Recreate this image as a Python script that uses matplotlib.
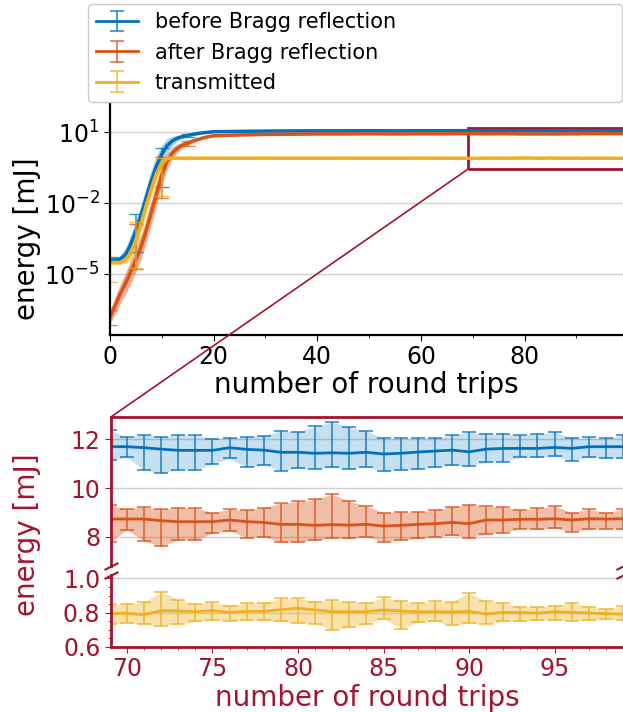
import numpy as np
import matplotlib.pyplot as plt
from matplotlib.patches import Rectangle, ConnectionPatch
from matplotlib.ticker import MultipleLocator, NullLocator

# colours
blue = '#0072BD'
orange = '#D95319'
yellow = '#EDB120'
darkred = '#A2142F'
fill_alpha = {blue: 0.22, orange: 0.38, yellow: 0.38}

labels = ['before Bragg reflection', 'after Bragg reflection', 'transmitted']

# build-up phase, round trips 0..20 (energy in mJ)
x_rise = list(range(21))
before_rise = [4.0e-5, 4.1e-5, 4.5e-5, 7.1e-5, 1.9e-4, 7.1e-4, 3.2e-3, 1.8e-2, 9.5e-2, 0.40, 1.2,
               2.7, 4.3, 5.6, 6.6, 7.4, 8.1, 8.9, 9.5, 10.0, 10.5]
before_rise_lo = [3.0e-5, 3.1e-5, 3.2e-5, 4.0e-5, 7.6e-5, 2.5e-4, 1.1e-3, 6.4e-3, 3.4e-2, 0.14, 0.48,
                  1.35, 2.7, 4.25, 5.5, 6.45, 7.2, 8.1, 8.9, 9.3, 9.8]
before_rise_hi = [5.3e-5, 5.4e-5, 6.4e-5, 1.26e-4, 4.8e-4, 2.0e-3, 9.0e-3, 5.1e-2, 0.27, 1.13, 3.0,
                  5.4, 6.8, 7.4, 7.9, 8.5, 9.1, 9.75, 10.2, 10.7, 11.3]
after_rise = [1.6e-7, 5.0e-7, 1.6e-6, 4.2e-6, 1.3e-5, 4.1e-5, 1.5e-4, 7.4e-4, 4.5e-3, 2.6e-2, 0.16,
              0.58, 1.3, 2.1, 2.9, 3.5, 4.3, 5.0, 5.8, 6.5, 7.1]
after_rise_lo = [8.0e-8, 2.2e-7, 6.4e-7, 1.5e-6, 4.1e-6, 1.3e-5, 4.7e-5, 2.3e-4, 1.4e-3, 8.2e-3, 5.7e-2,
                 0.26, 0.73, 1.4, 2.2, 2.8, 3.6, 4.4, 5.2, 5.9, 6.5]
after_rise_hi = [3.2e-7, 1.1e-6, 4.0e-6, 1.2e-5, 4.1e-5, 1.3e-4, 4.7e-4, 2.3e-3, 1.4e-2, 8.2e-2, 0.45,
                 1.3, 2.3, 3.2, 3.8, 4.4, 5.2, 5.7, 6.5, 7.1, 7.8]
trans_rise = [3.2e-5, 3.2e-5, 3.2e-5, 4.1e-5, 7.8e-5, 2.8e-4, 1.4e-3, 8.5e-3, 4.3e-2, 0.19, 0.49,
              0.79, 0.81, 0.80, 0.80, 0.81, 0.80, 0.80, 0.81, 0.80, 0.80]
trans_rise_lo = [2.7e-5, 2.7e-5, 2.7e-5, 2.9e-5, 3.9e-5, 1.1e-4, 5.6e-4, 3.4e-3, 1.7e-2, 8.5e-2, 0.31,
                 0.72, 0.74, 0.74, 0.74, 0.75, 0.74, 0.74, 0.75, 0.74, 0.74]
trans_rise_hi = [3.8e-5, 3.8e-5, 3.8e-5, 5.8e-5, 1.6e-4, 7.0e-4, 3.5e-3, 2.1e-2, 0.11, 0.43, 0.78,
                 0.86, 0.88, 0.86, 0.86, 0.87, 0.86, 0.86, 0.87, 0.86, 0.86]

# saturated phase, sampled
x_plateau = [25, 30, 35, 40, 45, 50, 55, 60, 65]
before_plat = [10.9, 11.2, 11.4, 11.5, 11.5, 11.6, 11.5, 11.6, 11.6]
before_plat_lo = [10.2, 10.5, 10.7, 10.8, 10.8, 10.9, 10.8, 10.9, 10.9]
before_plat_hi = [11.5, 11.8, 12.0, 12.1, 12.1, 12.2, 12.1, 12.2, 12.2]
after_plat = [7.7, 8.1, 8.3, 8.5, 8.5, 8.6, 8.5, 8.6, 8.6]
after_plat_lo = [7.0, 7.4, 7.6, 7.8, 7.8, 7.9, 7.8, 7.9, 7.9]
after_plat_hi = [8.4, 8.8, 9.0, 9.2, 9.2, 9.3, 9.2, 9.3, 9.3]
trans_plat = [0.80, 0.81, 0.80, 0.80, 0.81, 0.80, 0.80, 0.81, 0.80]
trans_plat_lo = [0.74, 0.75, 0.74, 0.74, 0.75, 0.74, 0.74, 0.75, 0.74]
trans_plat_hi = [0.86, 0.87, 0.86, 0.86, 0.87, 0.86, 0.86, 0.87, 0.86]

# zoomed window, round trips 69..99
x_zoom = list(range(69, 100))
before_mean = [11.70, 11.70, 11.66, 11.60, 11.55, 11.55, 11.55, 11.66, 11.59, 11.56, 11.47,
               11.47, 11.43, 11.45, 11.43, 11.47, 11.40, 11.43, 11.48, 11.52, 11.56,
               11.49, 11.60, 11.63, 11.63, 11.63, 11.67, 11.63, 11.70, 11.70, 11.70]
before_hi = [12.38, 12.08, 12.20, 12.11, 12.18, 12.18, 12.03, 12.07, 12.11, 12.16, 12.35,
             12.31, 12.54, 12.72, 12.49, 12.35, 12.04, 12.04, 12.04, 12.04, 12.18,
             12.30, 12.22, 12.22, 12.18, 12.22, 12.30, 12.04, 12.08, 12.04, 12.18]
before_lo = [11.15, 11.26, 10.74, 10.61, 10.74, 10.74, 10.99, 11.22, 10.85, 10.95, 10.72,
             10.81, 10.79, 10.85, 10.77, 10.88, 10.69, 10.74, 10.77, 10.85, 10.95,
             10.91, 11.06, 11.09, 11.26, 11.26, 11.30, 11.13, 11.26, 11.22, 11.22]
after_mean = [8.73, 8.73, 8.73, 8.66, 8.62, 8.62, 8.62, 8.69, 8.62, 8.59, 8.51,
              8.51, 8.47, 8.50, 8.48, 8.51, 8.44, 8.47, 8.51, 8.54, 8.59,
              8.54, 8.69, 8.69, 8.72, 8.72, 8.74, 8.69, 8.74, 8.73, 8.74]
after_hi = [9.31, 9.14, 9.24, 9.13, 9.20, 9.20, 8.99, 9.13, 9.10, 9.20, 9.38,
            9.45, 9.54, 9.75, 9.45, 9.27, 8.99, 9.03, 9.01, 9.10, 9.24,
            9.32, 9.26, 9.23, 9.10, 9.17, 9.27, 8.99, 9.13, 8.99, 9.13]
after_lo = [7.79, 8.28, 7.82, 7.61, 7.86, 7.86, 8.14, 8.25, 7.96, 8.00, 7.77,
            7.79, 7.86, 7.96, 7.93, 8.00, 7.79, 7.86, 7.93, 8.00, 8.07,
            7.97, 8.11, 8.17, 8.34, 8.30, 8.37, 8.19, 8.34, 8.32, 8.32]
trans_mean = [0.796, 0.796, 0.788, 0.812, 0.810, 0.806, 0.812, 0.802, 0.808, 0.808, 0.818,
              0.826, 0.816, 0.806, 0.806, 0.806, 0.816, 0.810, 0.806, 0.806, 0.804,
              0.808, 0.792, 0.802, 0.800, 0.798, 0.806, 0.802, 0.798, 0.794, 0.792]
trans_hi = [0.848, 0.851, 0.861, 0.921, 0.877, 0.851, 0.863, 0.842, 0.857, 0.859, 0.885,
            0.885, 0.865, 0.875, 0.865, 0.855, 0.891, 0.867, 0.859, 0.867, 0.865,
            0.915, 0.867, 0.859, 0.832, 0.836, 0.842, 0.857, 0.836, 0.822, 0.842]
trans_lo = [0.733, 0.741, 0.733, 0.723, 0.733, 0.749, 0.758, 0.752, 0.758, 0.756, 0.749,
            0.741, 0.737, 0.697, 0.717, 0.733, 0.766, 0.707, 0.743, 0.749, 0.727,
            0.741, 0.733, 0.749, 0.752, 0.756, 0.758, 0.752, 0.756, 0.762, 0.758]

# error bars drawn on the overview plot
err_x = [0, 5, 10, 15]
before_err_lo = [3.0e-5, 9.1e-5, 5.0e-2, 6.3]
before_err_hi = [5.3e-5, 3.5e-3, 2.1, 8.6]
after_err_lo = [7.2e-8, 1.7e-5, 1.7e-2, 2.75]
after_err_hi = [3.2e-7, 1.3e-3, 0.93, 4.4]
trans_err_lo = [4.6e-6, 1.8e-5, 2.1e-2, 0.74]
trans_err_hi = [3.8e-5, 1.6e-3, 0.80, 0.87]

fig = plt.figure(figsize=(6.23, 7.12), dpi=100)

# ---------------- overview (log scale) ----------------
ax1 = fig.add_axes([0.1766, 0.5295, 0.8234, 0.3301])
x_top = x_rise + x_plateau + x_zoom
series = [
    (blue, before_rise + before_plat + before_mean, before_rise_lo + before_plat_lo + before_lo,
     before_rise_hi + before_plat_hi + before_hi, before_rise, before_err_lo, before_err_hi),
    (orange, after_rise + after_plat + after_mean, after_rise_lo + after_plat_lo + after_lo,
     after_rise_hi + after_plat_hi + after_hi, after_rise, after_err_lo, after_err_hi),
    (yellow, trans_rise + trans_plat + trans_mean, trans_rise_lo + trans_plat_lo + trans_lo,
     trans_rise_hi + trans_plat_hi + trans_hi, trans_rise, trans_err_lo, trans_err_hi),
]
for c, m, lo, hi, rise, elo, ehi in series:
    ax1.fill_between(x_top, lo, hi, color=c, alpha=fill_alpha[c] + 0.1, lw=0)
    ax1.plot(x_top, m, color=c, lw=2.5)
    em = np.array([rise[i] for i in err_x])
    ax1.errorbar(err_x, em, yerr=[em - np.array(elo), np.array(ehi) - em], fmt='none',
                 ecolor=c, alpha=0.75, capsize=5, elinewidth=1.2)

ax1.set_yscale('log')
ax1.set_ylim(2.8e-8, 230)
ax1.set_xlim(0, 99)
ax1.set_yticks([1e-5, 1e-2, 1e1])
ax1.yaxis.set_minor_locator(NullLocator())
ax1.xaxis.set_major_locator(MultipleLocator(20))
ax1.xaxis.set_minor_locator(MultipleLocator(10))
ax1.grid(axis='y', color='#d0d0d0', lw=1)
ax1.set_axisbelow(True)
for s in ['top', 'right']:
    ax1.spines[s].set_visible(False)
for s in ['left', 'bottom']:
    ax1.spines[s].set_linewidth(1.6)
ax1.tick_params(labelsize=17, length=4)
ax1.tick_params(which='minor', length=2.5)
ax1.set_xlabel('number of round trips', fontsize=20, labelpad=1)
fig.text(27 / 623, 1 - 239 / 712, 'energy [mJ]', rotation=90, ha='center', va='center', fontsize=20)

ax1.add_patch(Rectangle((69, 0.27), 40, 15.3, fill=False, ec=darkred, lw=2))

# ---------------- zoomed window (broken axis) ----------------
axu = fig.add_axes([0.178, 1 - 566 / 712, 0.822, 149 / 712])
axl = fig.add_axes([0.178, 1 - 647 / 712, 0.822, 72 / 712])

handles = []
for a, c, m, lo, hi in [(axu, blue, before_mean, before_lo, before_hi),
                        (axu, orange, after_mean, after_lo, after_hi),
                        (axl, yellow, trans_mean, trans_lo, trans_hi)]:
    m = np.array(m)
    a.fill_between(x_zoom, lo, hi, color=c, alpha=fill_alpha[c], lw=0)
    h = a.errorbar(x_zoom, m, yerr=[m - np.array(lo), np.array(hi) - m], color=c, lw=2,
                   elinewidth=1.2, capsize=5, capthick=1.2)
    for art in h[1] + h[2]:
        art.set_alpha(0.8)
    handles.append(h)

axu.set_ylim(6.8, 12.92)
axl.set_ylim(0.6, 1.02)
axu.set_yticks([8, 10, 12])
axl.set_yticks([0.6, 0.8, 1.0])
axl.yaxis.set_minor_locator(MultipleLocator(0.05))
for a in (axu, axl):
    a.set_xlim(69.06, 99)
    a.grid(axis='y', color='#d0d0d0', lw=1)
    a.set_axisbelow(True)
    a.spines['right'].set_visible(False)
    for s in a.spines.values():
        s.set_color(darkred)
        s.set_linewidth(2)
    a.tick_params(colors=darkred, labelsize=17, length=4)
    a.tick_params(which='minor', colors=darkred, length=2.5)
axu.spines['bottom'].set_visible(False)
axu.tick_params(axis='x', bottom=False, labelbottom=False)
axl.spines['top'].set_visible(False)
axl.xaxis.set_major_locator(MultipleLocator(5))
axl.xaxis.set_minor_locator(MultipleLocator(1))
axl.set_xlabel('number of round trips', fontsize=20, color=darkred, labelpad=2)
fig.text(27 / 623, 1 - 535 / 712, 'energy [mJ]', rotation=90, ha='center', va='center',
         fontsize=20, color=darkred)

# break marks
kw = dict(marker=[(-1, -0.5), (1, 0.5)], markersize=10, linestyle='none', color=darkred,
          mec=darkred, mew=1.5, clip_on=False)
axu.plot([0, 1], [0, 0], transform=axu.transAxes, **kw)
axl.plot([0, 1], [1, 1], transform=axl.transAxes, **kw)

# connector from the marked region to the zoom window
con = ConnectionPatch(xyA=(69, 0.27), coordsA=ax1.transData, xyB=(0, 1), coordsB=axu.transAxes,
                      color=darkred, lw=1.2)
fig.add_artist(con)

fig.legend(handles, labels, loc='upper left', bbox_to_anchor=(88 / 623, 1 - 99 / 712, 534 / 623, 95 / 712),
           mode='expand', borderaxespad=0, fontsize=15, labelspacing=0.5, framealpha=1)

fig.savefig('out.png', dpi=100)
